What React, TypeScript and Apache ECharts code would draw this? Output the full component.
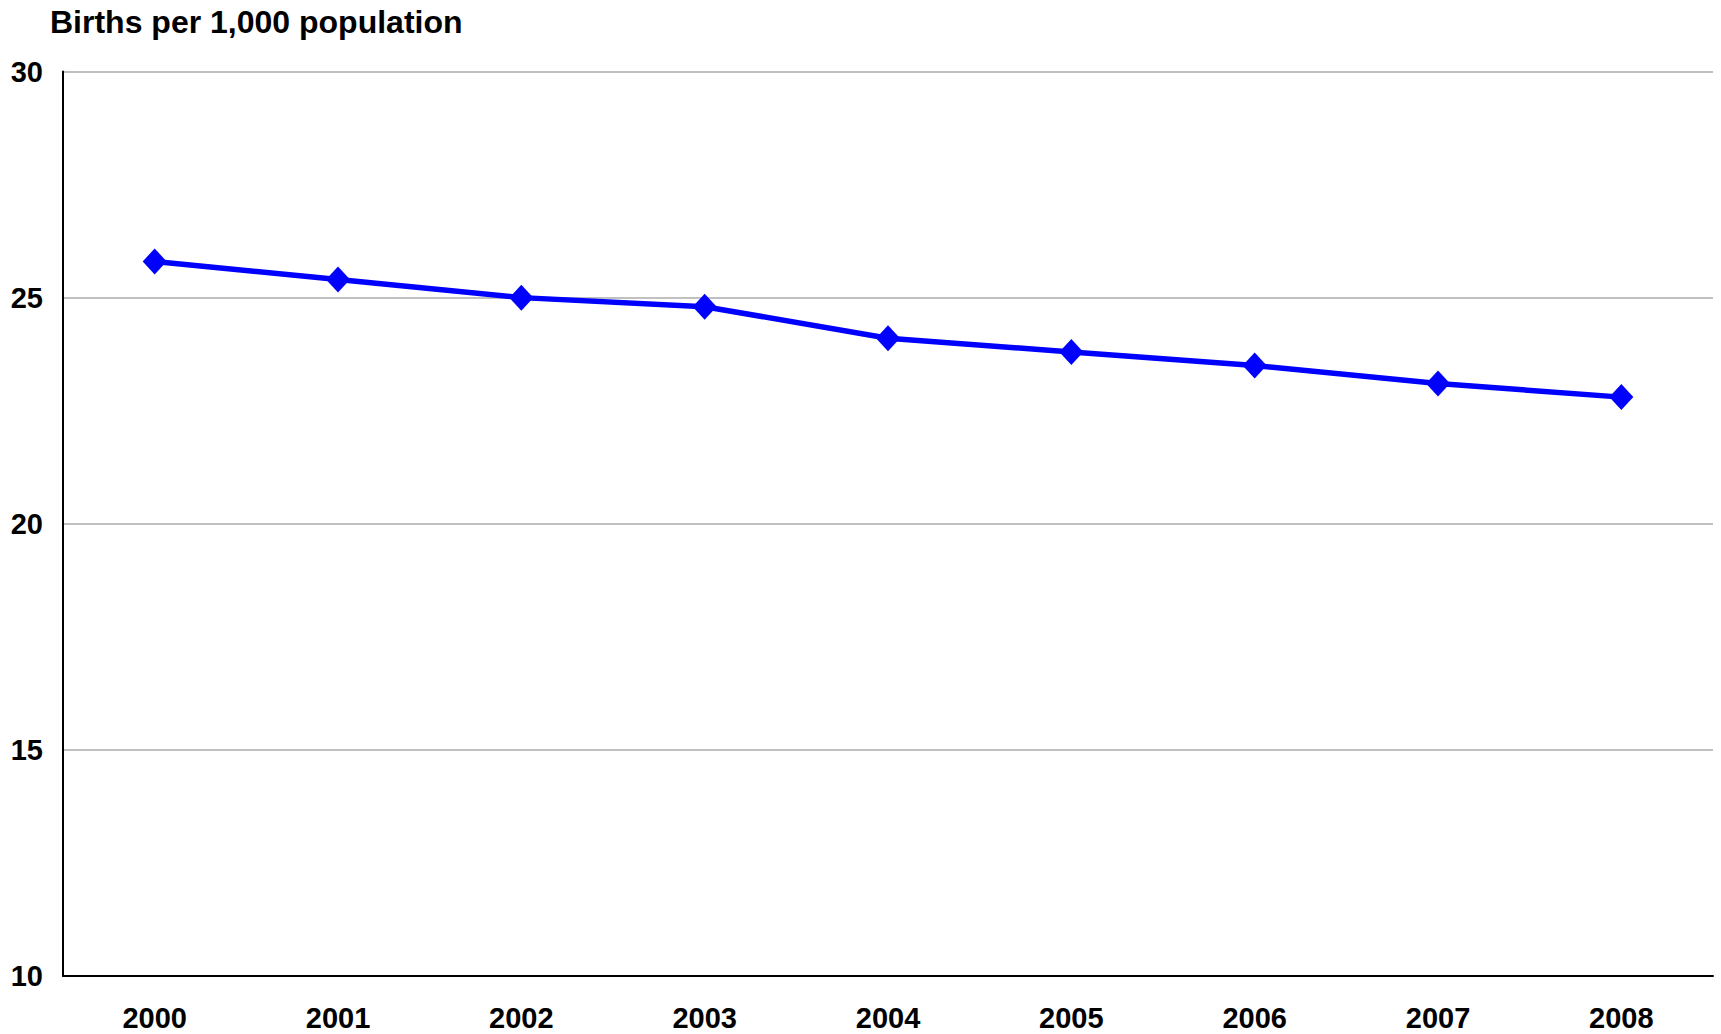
import React, { useEffect, useRef } from "react";
import * as echarts from "echarts";

const years = ["2000", "2001", "2002", "2003", "2004", "2005", "2006", "2007", "2008"];
const births = [25.8, 25.4, 25.0, 24.8, 24.1, 23.8, 23.5, 23.1, 22.8];
const yTicks = [10, 15, 20, 25, 30];
const titleText = "Births per 1,000 population";

const FONT = "Liberation Sans, Arial, sans-serif";

export default function App() {
  const ref = useRef<HTMLDivElement>(null);
  useEffect(() => {
    const chart = echarts.init(ref.current!, undefined, { renderer: "svg" });
    chart.setOption({
      animation: false,
      backgroundColor: "#ffffff",
      title: {
        text: titleText,
        left: 45,
        top: 1,
        textStyle: { fontFamily: FONT, fontSize: 32, fontWeight: "bold", color: "#000" },
      },
      grid: { left: 63, right: 8, top: 71.5, bottom: 58 },
      xAxis: {
        type: "category",
        data: years,
        boundaryGap: true,
        axisLine: { lineStyle: { color: "#000", width: 2 } },
        axisTick: { show: false },
        axisLabel: {
          margin: 27,
          fontFamily: FONT,
          fontSize: 29,
          fontWeight: "bold",
          color: "#000",
        },
      },
      yAxis: {
        type: "value",
        min: yTicks[0],
        max: yTicks[yTicks.length - 1],
        interval: 5,
        axisLine: { show: true, lineStyle: { color: "#000", width: 2 } },
        axisTick: { show: false },
        splitLine: { lineStyle: { color: "#c0c0c0", width: 2 } },
        axisLabel: {
          margin: 20,
          fontFamily: FONT,
          fontSize: 29,
          fontWeight: "bold",
          color: "#000",
        },
      },
      series: [
        {
          type: "line",
          data: births,
          symbol: "diamond",
          symbolSize: [24, 26],
          lineStyle: { color: "#0000ff", width: 5.5 },
          itemStyle: { color: "#0000ff" },
        },
      ],
    });
    return () => chart.dispose();
  }, []);
  return <div ref={ref} style={{ width: 1721, height: 1034, position: "absolute", left: 0, top: 0 }} />;
}
